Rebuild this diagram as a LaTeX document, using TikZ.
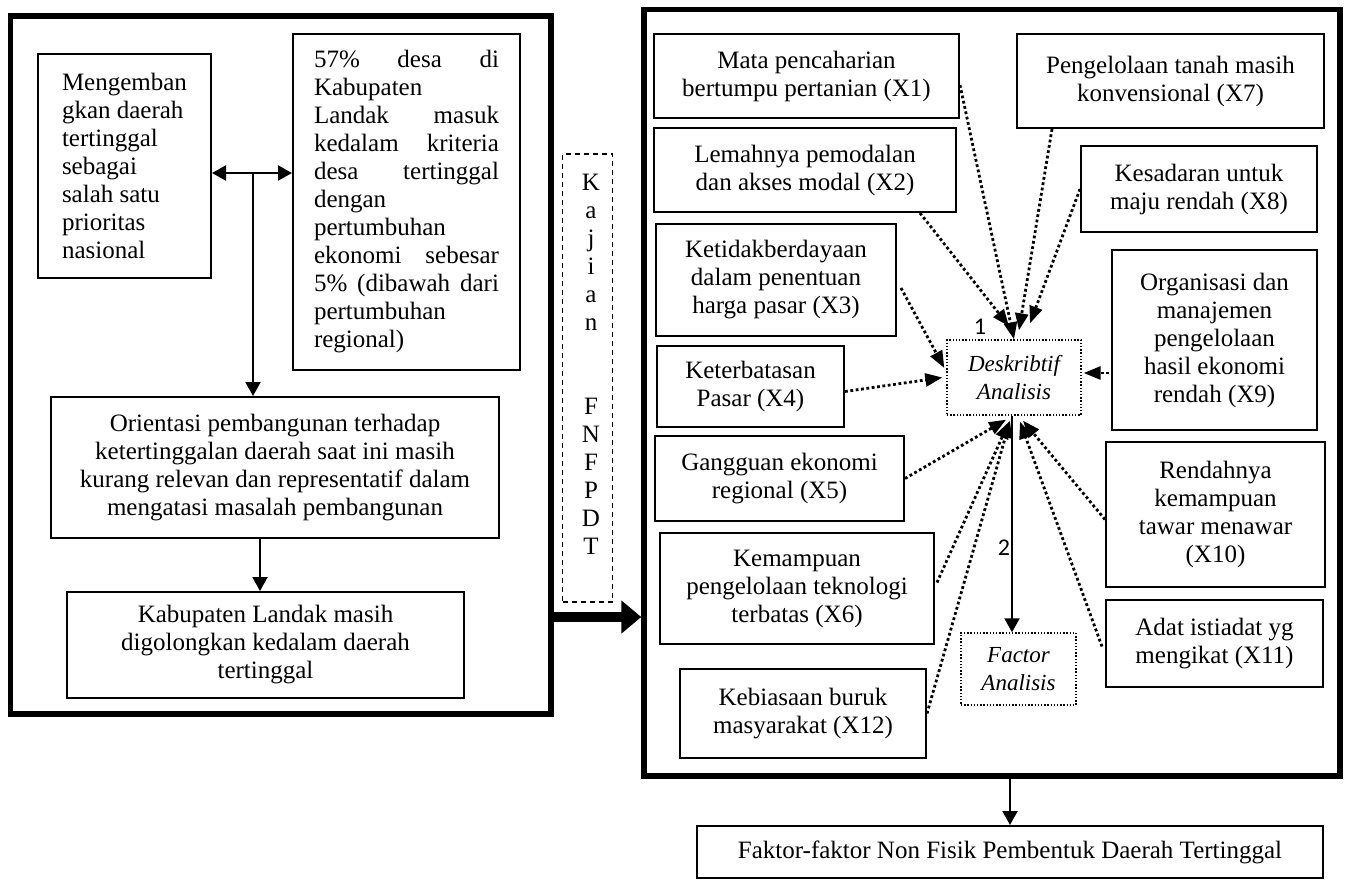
\documentclass[tikz,border=0pt]{standalone}
\usepackage{fontspec}
\setmainfont{Liberation Serif}
\newfontfamily\numfont{Carlito}
\usetikzlibrary{arrows.meta,calc}
\begin{document}
\begin{tikzpicture}[x=0.5pt,y=-0.5pt,
  box/.style={draw, line width=1pt, inner sep=0pt, align=center, font=\fontsize{12.5pt}{14pt}\selectfont},
  outer/.style={draw, line width=2.7pt, inner sep=0pt},
  dotbox/.style={draw, line width=0.7pt, dash pattern=on 0.7pt off 0.9pt, inner sep=0pt, align=center, font=\fontsize{11.5pt}{14pt}\selectfont\itshape},
  dots/.style={line width=1.4pt, dash pattern=on 1.4pt off 1.3pt, -{Triangle[length=8.5pt,width=6.5pt]}},
  solidarr/.style={line width=1pt, -{Triangle[length=7pt,width=7.5pt]}},
  lbl/.style={font=\numfont\fontsize{12pt}{14pt}\selectfont, inner sep=0pt}
]
\useasboundingbox (0,0) rectangle (1349,879);

% outer frames
\node[outer, minimum width=270.25pt, minimum height=349pt] (outerL) at (280.75,365) {};
\node[outer, minimum width=348pt, minimum height=383.25pt] (outerR) at (992,392.75) {};

% left part
\node[box, align=left, minimum width=86.5pt, minimum height=112pt] (m1) at (124.5,166)
  {Mengemban\\gkan daerah\\tertinggal\\sebagai\\salah satu\\prioritas\\nasional};
\node[box, text width=92.5pt, align=left, minimum width=113.5pt, minimum height=168pt] (m2) at (406.5,202)
  {57\%\hfill desa\hfill di\\Kabupaten\\Landak\hfill masuk\\kedalam\hfill kriteria\\desa\hfill tertinggal\\dengan\\pertumbuhan\\ekonomi\hfill sebesar\\5\%\hfill (dibawah\hfill dari\\pertumbuhan\\regional)};
\node[box, minimum width=224pt, minimum height=70.5pt] (m3) at (275,467.5)
  {Orientasi pembangunan terhadap\\ketertinggalan daerah saat ini masih\\kurang relevan dan representatif dalam\\mengatasi masalah pembangunan};
\node[box, minimum width=198.5pt, minimum height=53pt] (m4) at (265.5,645)
  {Kabupaten Landak masih\\digolongkan kedalam daerah\\tertinggal};

\coordinate (j) at (253,173);
\draw[line width=1pt, {Triangle[length=7pt,width=7.5pt]}-{Triangle[length=7pt,width=7.5pt]}] (m1.east |- j) -- (m2.west |- j);
\draw[solidarr] (j) -- (j |- m3.north);
\draw[solidarr] ($(m3.south)+(-15,0)$) -- ($(m4.north)+(-5.5,0)$);

% Kajian box
\node[draw, line width=0.7pt, dash pattern=on 2.5pt off 2pt, inner sep=0pt, minimum width=25pt, minimum height=224pt] (kaj) at (587.5,378) {};
\node[box, draw=none] (kajtext) at (591,364) {K\\a\\j\\i\\a\\n\\[28pt]F\\N\\F\\P\\D\\T};

\coordinate (t) at (600,617);
\draw[line width=5pt, -{Triangle[length=10pt,width=16pt]}] (outerL.east |- t) -- (outerR.west |- t);

% right part
\node[box, minimum width=152.5pt, minimum height=42pt] (x1) at (806.5,76) {Mata pencaharian\\bertumpu pertanian (X1)};
\node[box, minimum width=153.5pt, minimum height=47pt] (x7) at (1170.5,81) {Pengelolaan tanah masih\\konvensional (X7)};
\node[box, minimum width=151pt, minimum height=42pt] (x2) at (805,170) {Lemahnya pemodalan\\dan akses modal (X2)};
\node[box, minimum width=118pt, minimum height=43pt] (x8) at (1199,189) {Kesadaran untuk\\maju rendah (X8)};
\node[box, minimum width=120pt, minimum height=56pt] (x3) at (776,280) {Ketidakberdayaan\\dalam penentuan\\harga pasar (X3)};
\node[box, minimum width=102.5pt, minimum height=90pt] (x9) at (1214.5,340) {Organisasi dan\\manajemen\\pengelolaan\\hasil ekonomi\\rendah (X9)};
\node[box, minimum width=93.5pt, minimum height=40.5pt] (x4) at (750.5,386.5) {Keterbatasan\\Pasar (X4)};
\node[dotbox, minimum width=67pt, minimum height=37.5pt] (desk) at (1014,377.5) {Deskribtif\\Analisis};
\node[box, minimum width=124.5pt, minimum height=42.5pt] (x5) at (779.5,478.5) {Gangguan ekonomi\\regional (X5)};
\node[box, minimum width=109.5pt, minimum height=72.5pt] (x10) at (1215.5,514.5) {Rendahnya\\kemampuan\\tawar menawar\\(X10)};
\node[box, minimum width=137pt, minimum height=55.5pt] (x6) at (797,588.5) {Kemampuan\\pengelolaan teknologi\\terbatas (X6)};
\node[box, minimum width=108.5pt, minimum height=43.5pt] (x11) at (1214.5,643.5) {Adat istiadat yg\\mengikat (X11)};
\node[dotbox, minimum width=57.5pt, minimum height=36pt] (fac) at (1018.5,669) {Factor\\Analisis};
\node[box, minimum width=123pt, minimum height=44.5pt] (x12) at (803,713.5) {Kebiasaan buruk\\masyarakat (X12)};
\node[box, minimum width=313pt, minimum height=26pt] (faktor) at (1010,852) {Faktor-faktor Non Fisik Pembentuk Daerah Tertinggal};

% dotted connectors
\draw[dots] ($(x1.east)+(0,9)$) -- (desk.north);
\draw[dots] ($(x2.south)+(115,0)$) -- ($(desk.north)+(-5,-13)$);
\draw[dots] ($(x7.south)+(-118.5,0)$) -- ($(desk.north)+(5,-9)$);
\draw[dots] (x8.west) -- ($(desk.north)+(16,-16)$);
\draw[dots] ($(x3.east)+(4,8)$) -- ($(desk.west)+(-2,-9.5)$);
\draw[dots] ($(x4.east)+(0,5)$) -- ($(desk.west)+(-4,0)$);
\draw[dots] ($(x9.west)+(-2,33)$) -- ($(desk.east)+(2,-4.5)$);
\draw[dots] (x5.east) -- ($(desk.south)+(-8,4)$);
\draw[dots] ($(x6.east)+(2,-6)$) -- ($(desk.south)+(-5,6)$);
\draw[dots] (x12.east) -- ($(desk.south)+(-4,5)$);
\draw[dots] ($(x10.west)+(0,5)$) -- ($(desk.south)+(9,5)$);
\draw[dots] ($(x11.west)+(-3,3)$) -- ($(desk.south)+(6,6)$);

% solid connectors
\coordinate (d2) at ($(desk.south)+(-2,0)$);
\draw[solidarr] (d2) -- (d2 |- fac.north);
\draw[solidarr] (faktor.north |- outerR.south) -- (faktor.north);

\node[lbl] (one) at (980,327) {1};
\node[lbl] (two) at (1004,548) {2};
\end{tikzpicture}
\end{document}
